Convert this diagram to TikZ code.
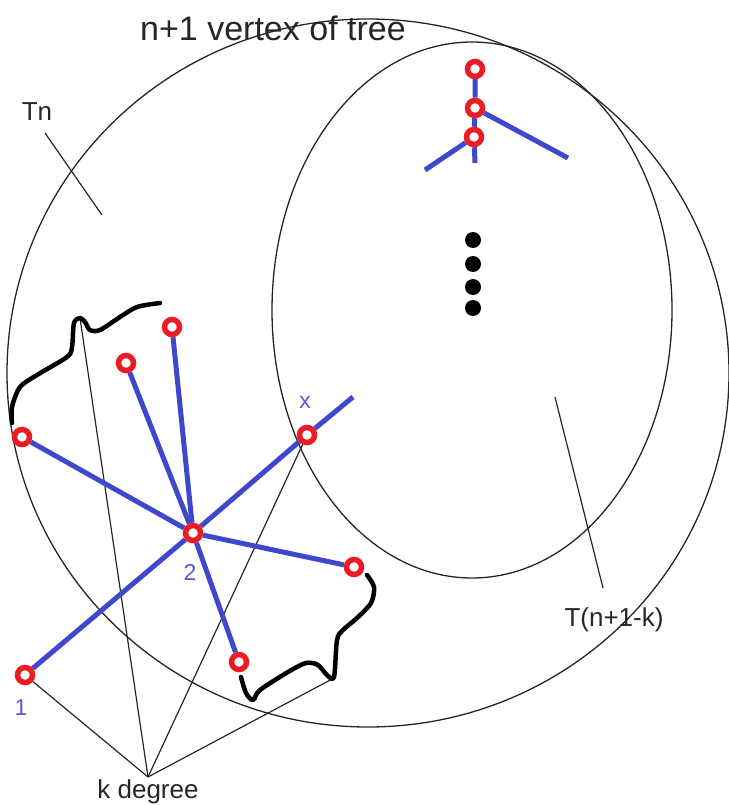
\documentclass[tikz,border=0pt]{standalone}
\usepackage{fontspec}
\setmainfont{Liberation Sans}
\usepackage{tikz}
\usetikzlibrary{backgrounds}
\usepackage{xcolor}
\definecolor{paintred}{RGB}{237,28,36}
\definecolor{paintblue}{RGB}{63,72,204}
\definecolor{labelblue}{RGB}{88,92,214}

\begin{document}
\begin{tikzpicture}[x=1pt, y=-1pt,
    vtx/.style={circle, draw=paintred, line width=5.5pt, fill=white, minimum size=15pt, inner sep=0pt},
    edge/.style={paintblue, line width=5pt},
    outline/.style={black!85, line width=1.3pt},
    pointer/.style={black!85, line width=1.2pt},
    curl/.style={black, line width=4.5pt, line cap=round, line join=round},
    lbl/.style={black!85, font=\fontsize{26}{30}\selectfont},
    num/.style={labelblue, font=\fontsize{23}{26}\selectfont}]

  \useasboundingbox (0,0) rectangle (728,805);

  % star around vertex 2
  \node[vtx] (c) at (193,533) {};
  \node[vtx] (a) at (172,327) {};
  \node[vtx] (b) at (126,363) {};
  \node[vtx] (l) at (22,437) {};
  \node[vtx] (x) at (307,435) {};
  \node[vtx] (d) at (354,567) {};
  \node[vtx] (e) at (239,662) {};
  \node[vtx] (one) at (25,675) {};
  \coordinate (xend) at (353,397);

  % small tree on top
  \node[vtx] (t1) at (475,69) {};
  \node[vtx] (t2) at (475,108) {};
  \node[vtx] (t3) at (474,137) {};
  \coordinate (t3down) at (475,163);
  \coordinate (t2right) at (568,158);
  \coordinate (t3left) at (425,170);

  % labels
  \node[num] (xlab) at (305,402) {x};
  \node[num] (twolab) at (190,572) {2};
  \node[num] (onelab) at (21,708) {1};
  \node[lbl, font=\fontsize{34}{38}\selectfont] (title) at (273,28) {n+1 vertex of tree};
  \node[lbl] (tn) at (37,112) {Tn};
  \node[lbl] (kdeg) at (148,792) {k degree};
  \node[lbl] (tsub) at (614,620) {T(n+1-k)};

  \coordinate (tnfrom) at (45,133);
  \coordinate (tnto) at (102,215);
  \coordinate (tsfrom) at (555,397);
  \coordinate (tsto) at (603,588);
  \coordinate (apex) at (148,777);
  \coordinate (bumpa) at (80,318);
  \coordinate (bumpb) at (334,678);

  \begin{scope}[on background layer]
    % Tn and T(n+1-k)
    \draw[outline] (368,373) ellipse (361 and 354);
    \draw[outline] (472,310) ellipse (200 and 268);

    % pointers
    \draw[pointer] (tnfrom) -- (tnto);
    \draw[pointer] (tsfrom) -- (tsto);
    \foreach \p in {one, bumpa, x, bumpb} {
        \draw[pointer] (apex) -- (\p);
      }

    % edges
    \foreach \v in {a, b, l, d, e} {
        \draw[edge] (c) -- (\v);
      }
    \draw[edge] (one) -- (c) -- (x) -- (xend);
    \draw[edge] (t1) -- (t2) -- (t3) -- (t3down);
    \draw[edge] (t2) -- (t2right);
    \draw[edge] (t3) -- (t3left);
  \end{scope}

  % dots
  \foreach \y in {240, 264, 287, 308} {
      \fill (473,\y) circle (8);
    }

  % hand drawn braces
  \draw[curl] plot[smooth, tension=0.5] coordinates {(12,423) (12,407) (20,387) (37,375) (67,357) (72,347) (74,323) (80,318) (85,322) (90,330) (100,330) (120,317) (137,307) (160,303)};
  \draw[curl] plot[smooth, tension=0.5] coordinates {(367,575) (374,587) (371,603) (357,618) (343,630) (337,640) (334,677) (327,675) (318,665) (306,663) (288,672) (260,690) (253,700) (246,693) (241,677)};
\end{tikzpicture}
\end{document}
